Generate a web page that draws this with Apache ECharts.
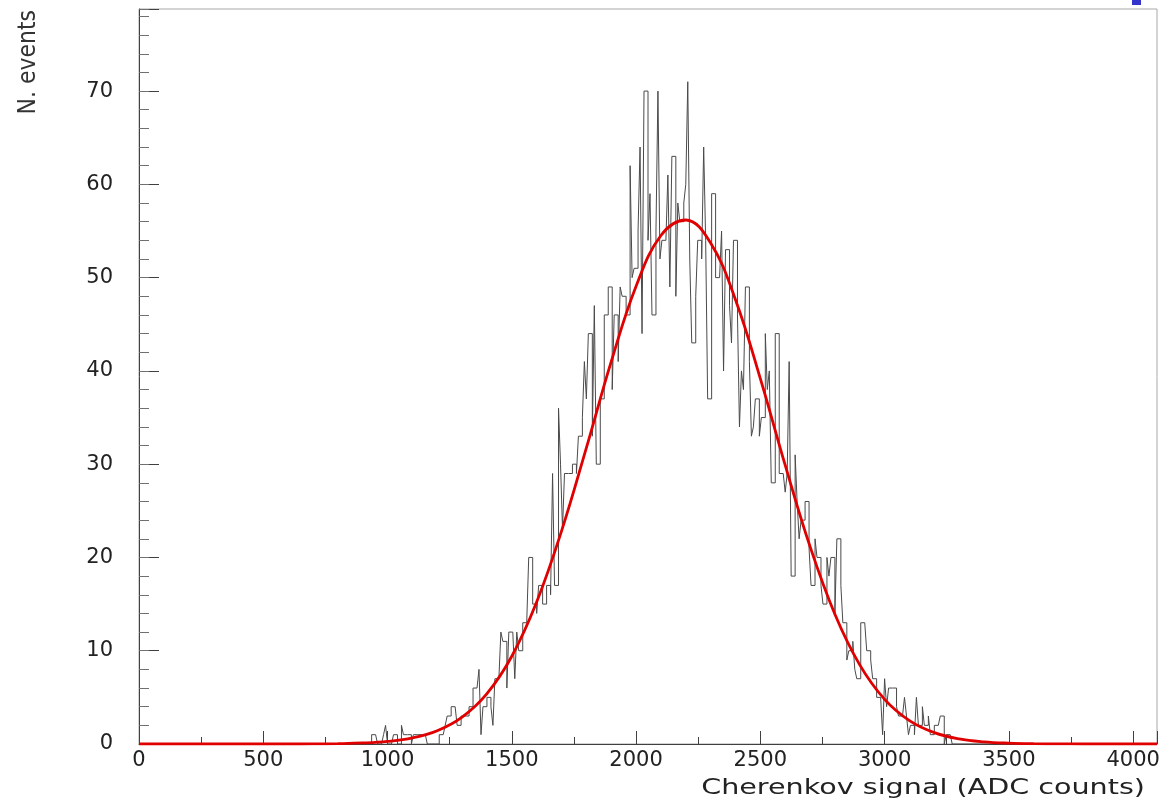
<!DOCTYPE html>
<html><head><meta charset="utf-8">
<script src="https://cdn.jsdelivr.net/npm/echarts@6/dist/echarts.min.js"></script>
<style>html,body{margin:0;padding:0;background:#fff}#c{width:1169px;height:803px}</style>
</head><body><div id="c"></div>
<script>
// Histogram: bins of width 8 ADC counts starting at 936
const binStart = 936;
const binWidth = 8;
const counts = [
 1,1,1,0,0,0,1,2,0,0,
 0,1,1,0,0,2,1,1,1,1,
 0,1,1,1,1,1,1,1,0,0,
 0,0,0,0,1,1,1,2,3,3,
 4,4,4,2,2,3,3,3,3,4,
 4,6,6,6,8,1,4,4,5,5,
 4,2,7,7,7,12,11,11,6,12,
 12,12,7,12,10,10,13,13,13,20,
 20,15,15,14,17,17,15,15,17,17,
 16,29,17,17,36,30,23,29,29,29,
 29,30,30,29,33,33,35,41,37,44,
 44,33,47,30,30,37,37,46,46,49,
 49,38,46,46,41,49,48,48,46,46,
 62,50,51,51,55,64,44,70,70,54,
 59,46,46,55,70,52,54,54,54,61,
 49,63,63,48,58,56,56,58,60,71,
 52,43,43,48,54,54,52,64,54,37,
 37,59,59,50,50,50,55,40,53,53,
 47,43,54,54,46,34,40,38,49,49,
 41,33,34,37,37,33,35,35,44,38,
 40,28,28,44,44,29,29,29,27,29,
 41,18,18,31,26,22,24,24,26,26,
 21,17,17,22,20,20,17,15,15,20,
 18,20,20,14,22,22,17,13,13,9,
 10,10,11,8,7,7,13,13,13,10,
 10,9,7,7,5,5,5,1,7,4,
 6,6,6,6,4,3,3,3,5,3,
 1,2,2,1,5,2,2,4,2,2,
 3,1,1,2,2,2,3,3,0,1,
 1,1
];
// Fit curve
const fitX = [0,100,200,300,400,500,600,700,800,900,1000,1100,1200,1300,1400,1500,1600,1700,1800,1900,2000,2100,2200,2300,2400,2500,2600,2700,2800,2900,3000,3100,3200,3300,3400,3500,3600,3700,3800,3900,4000,4096];
const fitY = [0,0,0,0,0,0,0,0.01,0.04,0.11,0.28,0.65,1.42,2.88,5.40,9.41,15.22,22.82,31.75,40.99,49.08,54.52,56.18,53.71,47.63,39.18,29.90,21.17,13.91,8.48,4.79,2.51,1.22,0.55,0.23,0.09,0.03,0.01,0,0,0,0];
const xTicks = [0,500,1000,1500,2000,2500,3000,3500,4000];
const yTicks = [0,10,20,30,40,50,60,70];
const xMax = 4096, yMax = 78.8;

const histPts = [[0,0]];
counts.forEach((c,k)=>histPts.push([binStart + k*binWidth, c]));
histPts.push([binStart + counts.length*binWidth, 0]);
histPts.push([xMax, 0]);
const fitPts = fitX.map((x,i)=>[x, fitY[i]]);

const axisCol = '#404040';
const font = 'DejaVu Sans';
const chart = echarts.init(document.getElementById('c'), null, {renderer:'canvas'});
chart.setOption({
  animation:false,
  backgroundColor:'#ffffff',
  grid:{left:139, top:9, right:12, bottom:59, show:true, borderColor:'#a8a8a8', borderWidth:1},
  xAxis:[
    {type:'value', position:'bottom', min:0, max:xMax, interval:500,
     axisLine:{lineStyle:{color:axisCol,width:1}},
     axisTick:{inside:true, length:13, lineStyle:{color:axisCol}},
     axisLabel:{margin:6, fontFamily:font, fontSize:21, color:'#222',
       formatter:v=>xTicks.includes(v)?String(v):''},
     splitLine:{show:false}},
    {type:'value', position:'bottom', min:0, max:xMax, interval:250,
     axisLine:{show:false},
     axisTick:{inside:true, length:7, lineStyle:{color:axisCol}},
     axisLabel:{show:false}, splitLine:{show:false}}
  ],
  yAxis:[
    {type:'value', position:'left', min:0, max:yMax, interval:10,
     axisLine:{show:true, lineStyle:{color:axisCol,width:1}},
     axisTick:{show:true, inside:true, length:20, lineStyle:{color:axisCol}},
     axisLabel:{margin:26, fontFamily:font, fontSize:21, color:'#222',
       formatter:v=>yTicks.includes(v)?String(v):''},
     splitLine:{show:false}},
    {type:'value', position:'left', min:0, max:yMax, interval:2,
     axisLine:{show:false},
     axisTick:{show:true, inside:true, length:10, lineStyle:{color:'#707070'}},
     axisLabel:{show:false}, splitLine:{show:false}}
  ],
  series:[
    {type:'line', name:'histogram', xAxisIndex:0, yAxisIndex:0, step:'end', symbol:'none',
     data:histPts, lineStyle:{color:'#4a4a4a', width:1}, z:3},
    {type:'line', name:'fit', xAxisIndex:0, yAxisIndex:0, smooth:0.4, symbol:'none',
     data:fitPts, lineStyle:{color:'#e00000', width:2.8}, z:4}
  ],
  graphic:[
    {type:'text', x:1145, y:777, scaleX:1.3, originX:0, originY:0,
     style:{text:'Cherenkov signal (ADC counts)', font:'22px "DejaVu Sans"', fill:'#222', align:'right', verticalAlign:'top'}},
    {type:'text', x:28, y:10, rotation:Math.PI/2, scaleY:1.15,
     style:{text:'N. events', font:'22px "DejaVu Sans"', fill:'#333', align:'right', verticalAlign:'middle'}},
    {type:'rect', x:1132, y:0, shape:{width:9, height:5}, style:{fill:'#3434cc'}}
  ]
});
</script>
</body></html>
